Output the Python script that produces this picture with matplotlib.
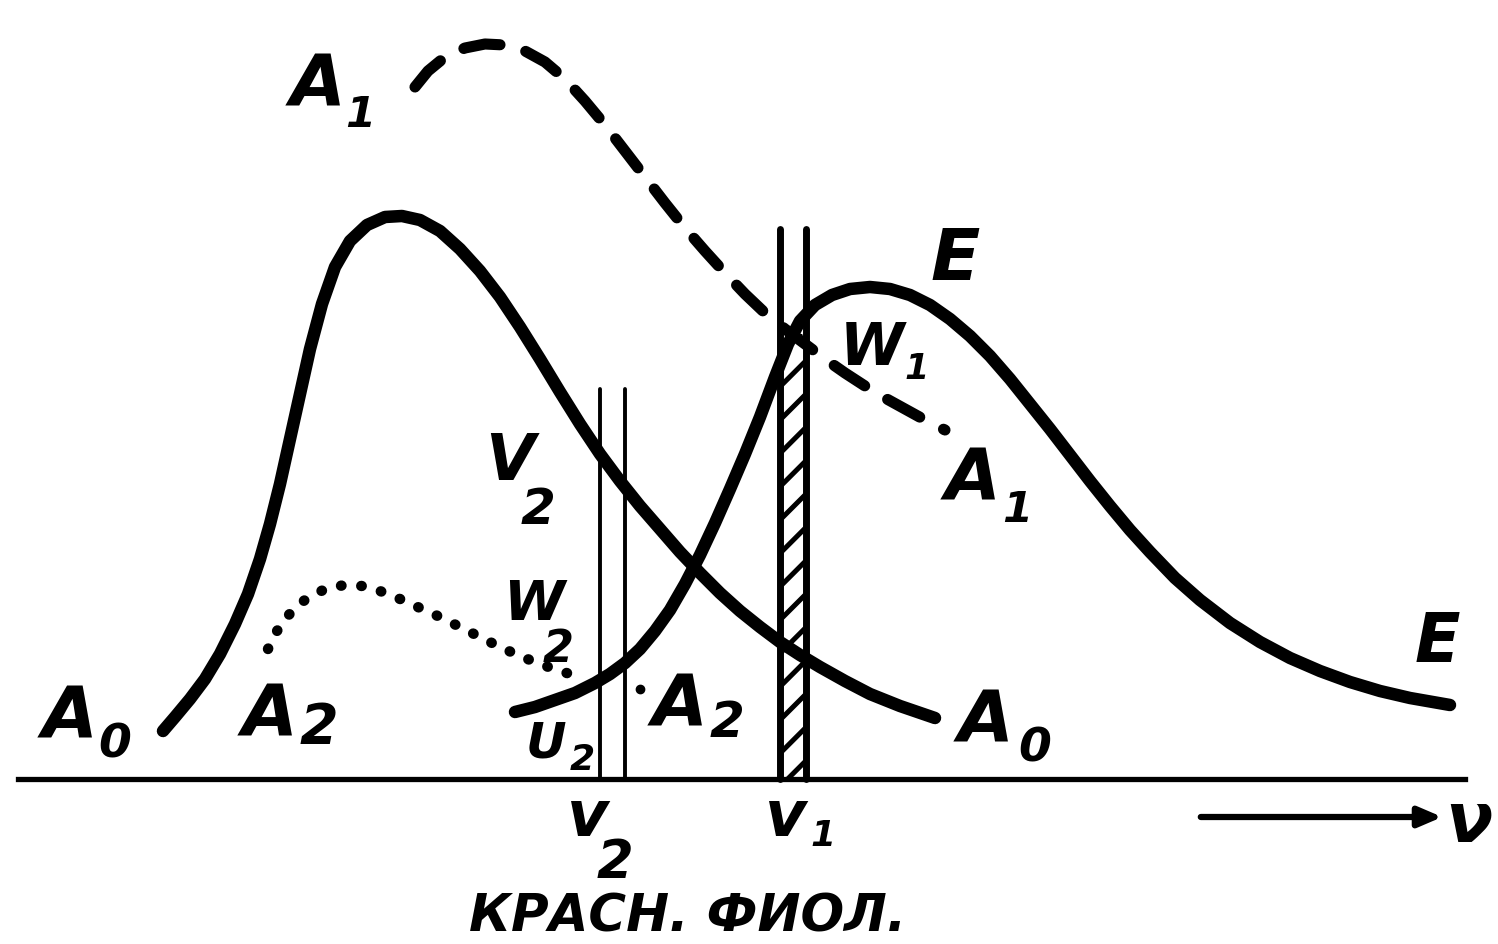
import numpy as np
import matplotlib.pyplot as plt
from matplotlib.patches import Rectangle

# кривые в координатах листа (x вправо, y вниз), точки
a0_x = [163, 175, 190, 205, 220, 235, 248, 260, 270, 280, 290, 300, 310, 322, 335, 350, 367, 385, 402,
        420, 440, 460, 480, 500, 520, 540, 560, 580, 600, 620, 640, 660, 680, 700, 720, 740, 760, 780,
        800, 820, 845, 870, 900, 935]
a0_y = [732, 718, 700, 680, 655, 625, 595, 560, 525, 485, 440, 395, 350, 305, 268, 242, 226, 218, 217,
        221, 232, 250, 272, 298, 328, 360, 393, 425, 455, 482, 507, 530, 553, 574, 594, 612, 628, 643,
        656, 668, 682, 695, 707, 719]

e_x = [515, 535, 555, 575, 595, 610, 625, 640, 655, 670, 685, 700, 715, 730, 745, 760, 775, 788, 800,
       815, 832, 850, 870, 890, 910, 930, 950, 970, 990, 1010, 1030, 1050, 1070, 1090, 1110, 1130,
       1150, 1175, 1200, 1230, 1260, 1290, 1320, 1350, 1380, 1410, 1450]
e_y = [713, 708, 701, 694, 684, 675, 664, 650, 632, 611, 585, 556, 524, 490, 455, 418, 378, 345, 322,
       306, 296, 290, 288, 290, 296, 306, 320, 337, 357, 380, 405, 430, 456, 482, 507, 531,
       553, 579, 601, 624, 643, 659, 672, 683, 692, 699, 706]

a1_x = [415, 428, 445, 465, 485, 505, 525, 545, 565, 585, 605, 625, 645, 665, 685, 705, 725, 745, 765,
        785, 805, 825, 845, 865, 885, 905, 925, 945]
a1_y = [88, 72, 58, 49, 45, 46, 52, 63, 80, 102, 126, 152, 178, 204, 229, 252, 274, 295, 314,
        330, 345, 360, 374, 387, 399, 410, 421, 431]

a2_x = [268, 275, 285, 298, 312, 328, 345, 362, 380, 400, 420, 440, 460, 480, 500, 520, 540, 560, 580]
a2_y = [650, 635, 620, 606, 596, 589, 586, 587, 592, 600, 609, 618, 628, 638, 648, 657, 665, 672, 678]
a2_dot = (640, 690)

# частоты v2, v1 и верх линий
v2_lines = [600, 625]
v1_lines = [780, 806]
v2_top = 390
v1_top = 230
v1_hatch_top = 335
base_y = 780

fig = plt.figure(figsize=(14.98, 9.45), dpi=100)
ax = fig.add_axes([0, 0, 1, 1])
ax.set_xlim(0, 1498)
ax.set_ylim(945, 0)
ax.axis('off')

plt.rcParams['hatch.linewidth'] = 3.6

# заштрихованная полоса у v1
ax.add_patch(Rectangle((v1_lines[0], v1_hatch_top), v1_lines[1] - v1_lines[0],
                       base_y - v1_hatch_top, facecolor='white', edgecolor='black',
                       hatch='/', lw=0))

# вертикальные линии
for x in v2_lines:
    ax.plot([x, x], [v2_top, base_y], color='black', lw=2.8, solid_capstyle='round')
for x in v1_lines:
    ax.plot([x, x], [v1_top, base_y], color='black', lw=5, solid_capstyle='round')

# кривые
ax.plot(a0_x, a0_y, color='black', lw=9, solid_capstyle='round', solid_joinstyle='round')
ax.plot(e_x, e_y, color='black', lw=9, solid_capstyle='round', solid_joinstyle='round')
ax.plot(a1_x, a1_y, color='black', lw=8, linestyle=(0, (3.3, 2.4)),
        dash_capstyle='round', dash_joinstyle='round')
ax.plot(a2_x, a2_y, color='black', lw=7.5, linestyle=(0, (0.05, 1.9)),
        dash_capstyle='round')
ax.plot(*a2_dot, 'o', color='black', ms=6)

# ось частот
ax.plot([18, 1465], [base_y, base_y], color='black', lw=3.8)
ax.annotate('', xy=(1445, 818), xytext=(1198, 818),
            arrowprops=dict(arrowstyle='-|>,head_length=1.4,head_width=0.6',
                            color='black', lw=4.5))

font = dict(family='DejaVu Sans', style='italic', weight='bold', color='black')


def label(x, y, main, sub=None, size=52, dx=55, dy=22, sub_size=None):
    ax.text(x, y, main, fontsize=size, ha='left', va='baseline', **font)
    if sub:
        ax.text(x + dx, y + dy, sub, fontsize=sub_size or size * 0.6,
                ha='left', va='baseline', **font)


label(290, 105, 'A', '1', dx=55, dy=22)
label(930, 280, 'E')
label(840, 365, 'W', '1', dx=64, dy=14, size=42)
label(945, 500, 'A', '1', dx=57, dy=22)
label(485, 480, 'V', '2', dx=36, dy=44, size=46, sub_size=36)
label(503, 620, 'W', '2', dx=40, dy=42, size=40, sub_size=32)
label(526, 758, 'U', '2', dx=44, dy=12, size=36, sub_size=26)
label(42, 738, 'A', '0', dx=56, dy=20, sub_size=34)
label(242, 735, 'A', '2', dx=58, dy=8, sub_size=40)
label(652, 725, 'A', '2', dx=58, dy=12, sub_size=36)
label(958, 742, 'A', '0', dx=60, dy=20, sub_size=34)
label(1415, 662, 'E', size=48)
label(567, 836, 'v', '2', dx=30, dy=42, size=46, sub_size=38)
label(765, 836, 'v', '1', dx=45, dy=10, size=46, sub_size=26)
ax.text(1445, 842, 'ν', fontsize=50, ha='left', va='baseline', **font)
ax.text(688, 932, 'КРАСН. ФИОЛ.', fontsize=37, ha='center', va='baseline', **font)

fig.savefig('out.png', dpi=100)
